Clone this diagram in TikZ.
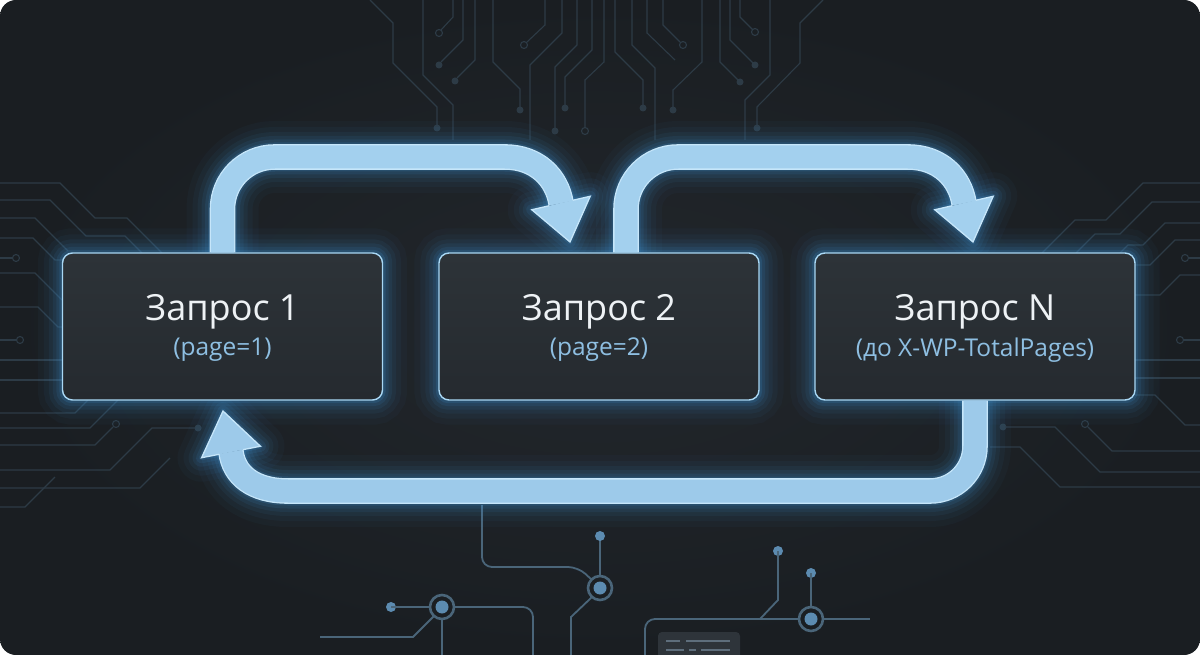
\documentclass[tikz,border=0pt]{standalone}
\usepackage{fontspec}
\setmainfont{Open Sans}
\usetikzlibrary{calc}
\definecolor{bgin}{HTML}{22272C}
\definecolor{bgout}{HTML}{1A1E22}
\definecolor{tracec}{HTML}{2D3B46}
\definecolor{btracec}{HTML}{4A6579}
\definecolor{bdotc}{HTML}{5C8BB0}
\definecolor{glowc}{HTML}{3E94D6}
\definecolor{edgec}{HTML}{C6E6FA}
\definecolor{boxedge}{HTML}{A9D8F5}
\definecolor{boxtop}{HTML}{2D3338}
\definecolor{boxbot}{HTML}{252A2F}
\definecolor{arrc}{HTML}{A3D0EE}
\definecolor{arrd}{HTML}{9DCAEA}
\definecolor{maintc}{HTML}{EEF2F5}
\definecolor{subtc}{HTML}{8EBFE2}
\definecolor{chipc}{HTML}{2E343A}
\definecolor{chipl}{HTML}{5E6E7C}
\pgfdeclarelayer{bg}
\pgfdeclarelayer{glow}
\pgfsetlayers{bg,glow,main}
\begin{document}
\begin{tikzpicture}[x=1pt,y=-1pt,
  box/.style={rectangle, rounded corners=10pt, minimum width=320pt, minimum height=147pt,
    draw=boxedge, line width=1.4pt, top color=boxtop, bottom color=boxbot, inner sep=0pt},
  maintxt/.style={text=maintc, font=\fontsize{36}{42}\selectfont, inner sep=0pt},
  subtxt/.style={text=subtc, font=\fontsize{24.5}{29}\selectfont, inner sep=0pt},
  trace/.style={draw=tracec, line width=1.1pt},
  tdot/.style={fill=tracec},
  tring/.style={draw=tracec, line width=1.1pt},
  btrace/.style={draw=btracec, line width=1.8pt},
  bring/.style={draw=btracec, line width=2.6pt},
  bdot/.style={fill=bdotc},
  shaftedge/.style={draw=edgec, line width=25.6pt},
  headedge/.style={draw=edgec, line width=1.3pt, line join=miter},
  pathA/.style={insert path={(b1.north) -- ($(c1)+(0,52)$)
    .. controls ($(c1)+(0,23.3)$) and ($(c1)+(23.3,0)$) .. ($(c1)+(52,0)$)
    -- (a1k) .. controls ($(a1k)+(32,0)$) and ($(a1b)+(-4,-25)$) .. (a1b)}},
  headA/.style={insert path={(a1t) -- ($(a1b)!30pt!90:(a1t)$) -- ($(a1b)!30pt!-90:(a1t)$) -- cycle}},
  edgeA/.style={insert path={($(a1b)!12pt!90:(a1t)$) -- ($(a1b)!30pt!90:(a1t)$) -- (a1t)
    -- ($(a1b)!30pt!-90:(a1t)$) -- ($(a1b)!12pt!-90:(a1t)$)}},
  pathB/.style={insert path={(a2s) -- ($(c2)+(0,52)$)
    .. controls ($(c2)+(0,23.3)$) and ($(c2)+(23.3,0)$) .. ($(c2)+(52,0)$)
    -- (a2k) .. controls ($(a2k)+(32,0)$) and ($(a2b)+(-4,-25)$) .. (a2b)}},
  headB/.style={insert path={(a2t) -- ($(a2b)!30pt!90:(a2t)$) -- ($(a2b)!30pt!-90:(a2t)$) -- cycle}},
  edgeB/.style={insert path={($(a2b)!12pt!90:(a2t)$) -- ($(a2b)!30pt!90:(a2t)$) -- (a2t)
    -- ($(a2b)!30pt!-90:(a2t)$) -- ($(a2b)!12pt!-90:(a2t)$)}},
  pathC/.style={insert path={(b3.south) -- ($(c3)+(0,-45)$)
    .. controls ($(c3)+(0,-20)$) and ($(c3)+(-20,0)$) .. ($(c3)+(-45,0)$)
    -- (a3k) .. controls ($(a3k)+(-35,0)$) and ($(a3b)+(3,23)$) .. (a3b)}},
  headC/.style={insert path={(a3t) -- ($(a3b)!30pt!90:(a3t)$) -- ($(a3b)!30pt!-90:(a3t)$) -- cycle}},
  edgeC/.style={insert path={($(a3b)!12pt!90:(a3t)$) -- ($(a3b)!30pt!90:(a3t)$) -- (a3t)
    -- ($(a3b)!30pt!-90:(a3t)$) -- ($(a3b)!12pt!-90:(a3t)$)}}
]
\useasboundingbox (0,0) rectangle (1200,655);

% ---------- boxes ----------
\node[box] (b1) at (222.5,326.5) {};
\node[box] (b2) at (599,326.5) {};
\node[box] (b3) at (975,326.5) {};
\node[maintxt] (t1) at ([yshift=14.5pt]b1.center) {Запрос 1};
\node[subtxt]  (s1) at ([yshift=-23.5pt]b1.center) {(page=1)};
\node[maintxt] (t2) at ([yshift=14.5pt]b2.center) {Запрос 2};
\node[subtxt]  (s2) at ([yshift=-23.5pt]b2.center) {(page=2)};
\node[maintxt] (t3) at ([yshift=14.5pt]b3.center) {Запрос N};
\node[subtxt]  (s3) at ([yshift=-23.5pt]b3.center) {(до X-WP-TotalPages)};

% ---------- arrow coordinates ----------
\coordinate (a1k) at (505,157);
\coordinate (c1) at (b1.north |- a1k);
\coordinate (a1b) at (561,203);
\coordinate (a1t) at (570,242);
\coordinate (a2s) at ([xshift=27pt]b2.north);
\coordinate (a2k) at (908,157);
\coordinate (c2) at (a2s |- a2k);
\coordinate (a2b) at (964,203);
\coordinate (a2t) at (973,242);
\coordinate (a3k) at (288,491);
\coordinate (c3) at (b3.south |- a3k);
\coordinate (a3b) at (231,452);
\coordinate (a3t) at (223,411);

% ---------- background ----------
\begin{pgfonlayer}{bg}
\fill[white] (0,0) rectangle (1200,655);
\begin{scope}
\clip[rounded corners=16pt] (0,0) rectangle (1200,655);
\shade[inner color=bgin, outer color=bgout] (0,0) rectangle (1200,655);
% top traces
\draw[trace] (370,0)--(393,23)--(393,63)--(437,107)--(437,125);
\fill[tdot] (437,128) circle (3.5);
\draw[trace] (423,0)--(423,75)--(453,105)--(453,140);
\draw[trace] (453,0)--(453,17)--(441,30);
\draw[tring] (439,33) circle (3.5);
\draw[trace] (463,0)--(463,40)--(441,62);
\fill[tdot] (439,65) circle (3.5);
\draw[trace] (475,0)--(475,60)--(457,78);
\fill[tdot] (455,81) circle (3.5);
\draw[trace] (493,0)--(493,62)--(520,89)--(520,107);
\fill[tdot] (520,110) circle (3.5);
\draw[trace] (545,0)--(545,25)--(527,42);
\draw[tring] (524,45) circle (3.5);
\draw[trace] (562,0)--(562,33)--(530,65)--(530,140);
\draw[trace] (577,0)--(577,45)--(555,67)--(555,128);
\fill[tdot] (555,131) circle (3.5);
\draw[trace] (592,0)--(592,50)--(565,77)--(565,105);
\fill[tdot] (565,108) circle (3.5);
\draw[trace] (604,0)--(604,62)--(585,80)--(585,127);
\draw[tring] (585,131) circle (3.5);
\draw[trace] (615,0)--(615,52)--(643,80)--(643,105);
\fill[tdot] (643,108) circle (3.5);
\draw[trace] (632,0)--(632,45)--(655,68)--(655,140);
\draw[trace] (647,0)--(647,33)--(675,60);
\draw[trace] (663,0)--(663,25)--(680,42);
\draw[tring] (683,45) circle (3.5);
\draw[trace] (702,0)--(702,62)--(673,90)--(673,107);
\fill[tdot] (673,110) circle (3.5);
\draw[trace] (720,0)--(720,62)--(738,80);
\fill[tdot] (740,82) circle (3.5);
\draw[trace] (730,0)--(730,40)--(753,63);
\fill[tdot] (755,65) circle (3.5);
\draw[trace] (740,0)--(740,17)--(753,30);
\draw[tring] (755,32) circle (3.5);
\draw[trace] (770,0)--(770,75)--(745,100)--(745,140);
\draw[trace] (823,0)--(800,23)--(800,63)--(757,107)--(757,125);
\fill[tdot] (757,128) circle (3.5);
% left traces
\draw[trace] (0,183)--(60,183)--(95,218)--(127,218)--(162,253);
\draw[trace] (0,200)--(50,200)--(86,236)--(125,236)--(142,253);
\draw[trace] (0,218)--(35,218)--(68,251);
\draw[trace] (0,238)--(33,238)--(55,260)--(63,260);
\draw[trace] (0,258)--(12,258);
\draw[tring] (16,258) circle (3.5);
\draw[trace] (0,273)--(35,273)--(62,300);
\draw[trace] (0,307)--(38,307)--(58,327)--(63,327);
\draw[trace] (0,340)--(16,340);
\draw[tring] (20,340) circle (3.5);
\draw[trace] (0,360)--(63,360);
\draw[trace] (0,380)--(63,380);
\draw[trace] (0,413)--(75,413)--(88,400);
\draw[trace] (0,428)--(90,428)--(118,400);
\draw[trace] (0,445)--(95,445)--(113,427);
\draw[tring] (116,424) circle (3.5);
\draw[trace] (0,470)--(110,470)--(152,428)--(195,428);
\fill[tdot] (198,428) circle (3.5);
\draw[trace] (0,488)--(140,488)--(170,458);
\draw[trace] (0,507)--(25,507)--(55,477);
% right traces
\draw[trace] (1200,183)--(1143,183)--(1106,220)--(1075,220)--(1042,253);
\draw[trace] (1200,202)--(1152,202)--(1120,234)--(1095,234)--(1076,253);
\draw[trace] (1200,223)--(1165,223)--(1143,245)--(1128,245)--(1120,253);
\draw[trace] (1200,240)--(1175,240)--(1150,265)--(1135,265);
\draw[trace] (1189,258)--(1200,258);
\draw[tring] (1185,258) circle (3.5);
\draw[trace] (1200,275)--(1180,275)--(1160,295)--(1135,295);
\draw[trace] (1184,340)--(1200,340);
\draw[tring] (1180,340) circle (3.5);
\draw[trace] (1135,360)--(1200,360);
\draw[trace] (1135,378)--(1200,378);
\draw[trace] (1135,395)--(1155,395)--(1185,425)--(1200,425);
\draw[tring] (1085,424) circle (3.5);
\draw[trace] (1088,427)--(1112,451)--(1200,451);
\fill[tdot] (1003,427) circle (3.5);
\draw[trace] (1003,427)--(1055,427)--(1100,472)--(1200,472);
\draw[trace] (990,447)--(1020,447)--(1060,487)--(1200,487);
% bottom traces
\draw[btrace, rounded corners=10pt] (482,505)--(482,567)--(578,567)--(592,580);
\draw[bring] (600,588) circle (12);
\fill[bdot] (600,588) circle (6.5);
\draw[btrace] (600,576)--(600,540);
\fill[bdot] (600,536) circle (5);
\draw[btrace] (592,597)--(571,617)--(571,655);
\fill[bdot] (391,607) circle (5);
\draw[btrace] (391,607)--(430,607);
\draw[bring] (442,607) circle (12);
\fill[bdot] (442,607) circle (6.5);
\draw[btrace, rounded corners=10pt] (454,607)--(533,607)--(533,655);
\draw[btrace] (434,616)--(413,637)--(320,637);
\draw[btrace] (442,619)--(442,655);
\fill[bdot] (778,551) circle (5);
\draw[btrace] (778,551)--(778,600)--(760,619);
\draw[btrace, rounded corners=10pt] (645,655)--(645,619)--(799,619);
\draw[bring] (811,619) circle (12);
\fill[bdot] (811,619) circle (6.5);
\fill[bdot] (811,573) circle (5);
\draw[btrace] (811,573)--(811,607);
\draw[btrace] (823,619)--(870,619);
\fill[chipc, rounded corners=4pt] (658,632) rectangle (740,662);
\draw[chipl, line width=1.5pt] (666,641)--(680,641) (686,641)--(730,641)
  (666,650)--(684,650) (689,650)--(696,650) (701,650)--(730,650);
\end{scope}
\end{pgfonlayer}

% ---------- glows ----------
\begin{pgfonlayer}{glow}
\foreach \w/\o in {48/0.035,36/0.05,26/0.065,18/0.085,11/0.11,5/0.16} {
  \foreach \n in {b1,b2,b3} {
    \draw[glowc, line width=\w pt, opacity=\o, rounded corners=10pt]
      (\n.south west) rectangle (\n.north east);
  }
  \draw[glowc, line width=24pt+\w pt, opacity=\o, pathA];
  \draw[glowc, line width=\w pt, opacity=\o, line join=round, headA];
  \draw[glowc, line width=24pt+\w pt, opacity=\o, pathB];
  \draw[glowc, line width=\w pt, opacity=\o, line join=round, headB];
  \draw[glowc, line width=24pt+\w pt, opacity=\o, pathC];
  \draw[glowc, line width=\w pt, opacity=\o, line join=round, headC];
}
\end{pgfonlayer}

% ---------- arrows ----------
\draw[shaftedge, pathA];
\draw[arrc, line width=23pt, pathA];
\fill[arrc, headA];
\draw[headedge, edgeA];
\draw[shaftedge, pathB];
\draw[arrc, line width=23pt, pathB];
\fill[arrc, headB];
\draw[headedge, edgeB];
\draw[shaftedge, pathC];
\draw[arrd, line width=23pt, pathC];
\fill[arrd, headC];
\draw[headedge, edgeC];
\end{tikzpicture}
\end{document}
